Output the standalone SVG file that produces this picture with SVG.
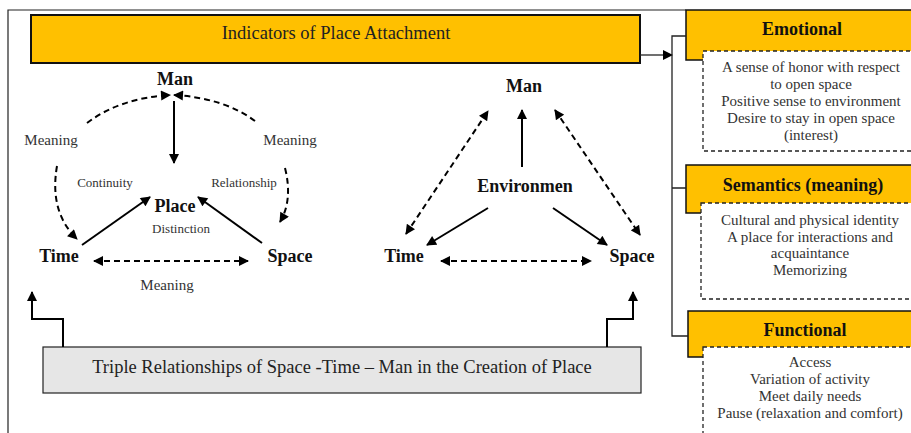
<svg xmlns="http://www.w3.org/2000/svg" width="911" height="433" viewBox="0 0 911 433">
  <style>
    text { font-family: "Liberation Serif", "Times New Roman", serif; }
    .frame { fill: none; stroke: #222; stroke-width: 1.2; }
    .orange { fill: #FFC000; stroke: #111; }
    .grey { fill: #E6E6E6; stroke: #222; stroke-width: 1.2; }
    .dash-box { fill: #fff; stroke: #222; stroke-width: 1.3; stroke-dasharray: 4 3; }
    .node { font-size: 18px; font-weight: bold; fill: #111; text-anchor: middle; }
    .lbl { font-size: 15px; fill: #333; text-anchor: middle; }
    .small { font-size: 13px; fill: #333; text-anchor: middle; }
    .head { font-size: 18px; font-weight: bold; fill: #111; text-anchor: middle; }
    .body { font-size: 15px; fill: #333; text-anchor: middle; }
    .solid { fill: none; stroke: #000; stroke-width: 2; }
    .dashed { fill: none; stroke: #000; stroke-width: 2; stroke-dasharray: 6 4; }
    .thin { fill: none; stroke: #222; stroke-width: 1.3; }
  </style>
  <defs>
    <marker id="ah" viewBox="0 0 10 10" refX="9" refY="5" markerWidth="11" markerHeight="10" markerUnits="userSpaceOnUse" orient="auto-start-reverse">
      <path d="M0,0 L10,5 L0,10 z" fill="#000"/>
    </marker>
  </defs>

  <rect width="911" height="433" fill="#fff"/>

  <!-- outer frame -->
  <path class="frame" d="M8,433 V10 H686"/>

  <!-- header bar -->
  <g id="indicators">
    <rect class="orange" x="31" y="15" width="609" height="48" stroke-width="2"/>
    <text x="336" y="39" font-size="18.5" fill="#222" text-anchor="middle">Indicators of Place Attachment</text>
  </g>

  <!-- Emotional -->
  <g id="emotional">
    <rect class="orange" x="686" y="10" width="230" height="50" stroke-width="1.5"/>
    <text class="head" x="802" y="35">Emotional</text>
    <rect class="dash-box" x="703" y="51" width="215" height="100"/>
    <text class="body" x="811" y="72">A sense of honor with respect</text>
    <text class="body" x="811" y="89">to open space</text>
    <text class="body" x="811" y="106">Positive sense to environment</text>
    <text class="body" x="811" y="123">Desire to stay in open space</text>
    <text class="body" x="811" y="140">(interest)</text>
  </g>

  <!-- Semantics -->
  <g id="semantics">
    <rect class="orange" x="686" y="165" width="230" height="48" stroke-width="1.5"/>
    <text class="head" x="803" y="191">Semantics (meaning)</text>
    <rect class="dash-box" x="701" y="203" width="217" height="96"/>
    <text class="body" x="810" y="225">Cultural and physical identity</text>
    <text class="body" x="810" y="242">A place for interactions and</text>
    <text class="body" x="810" y="258">acquaintance</text>
    <text class="body" x="810" y="275">Memorizing</text>
  </g>

  <!-- Functional -->
  <g id="functional">
    <rect class="orange" x="688" y="311" width="230" height="46" stroke-width="1.5"/>
    <text class="head" x="805" y="336">Functional</text>
    <rect class="dash-box" x="703" y="347" width="215" height="95"/>
    <text class="body" x="810" y="367">Access</text>
    <text class="body" x="810" y="384">Variation of activity</text>
    <text class="body" x="810" y="401">Meet daily needs</text>
    <text class="body" x="810" y="418">Pause (relaxation and comfort)</text>
  </g>

  <!-- bottom bar -->
  <g id="triple">
    <rect class="grey" x="43" y="347" width="598" height="46"/>
    <text x="342" y="373" font-size="18.5" fill="#222" text-anchor="middle">Triple Relationships of Space -Time – Man in the Creation of Place</text>
  </g>

  <!-- left triangle nodes -->
  <g id="man-left"><text class="node" x="175" y="85">Man</text></g>
  <g id="place"><text class="node" x="175" y="212">Place</text></g>
  <g id="time-left"><text class="node" x="59" y="262">Time</text></g>
  <g id="space-left"><text class="node" x="290" y="262">Space</text></g>

  <!-- right triangle nodes -->
  <g id="man-right"><text class="node" x="524" y="92">Man</text></g>
  <g id="environment"><text class="node" x="525" y="192" fill="#333">Environmen</text></g>
  <g id="time-right"><text class="node" x="404" y="262">Time</text></g>
  <g id="space-right"><text class="node" x="632" y="262">Space</text></g>

  <!-- connector labels -->
  <g id="labels">
    <text class="lbl" x="51" y="145">Meaning</text>
    <text class="lbl" x="290" y="145">Meaning</text>
    <text class="lbl" x="167" y="290">Meaning</text>
    <text class="small" x="105" y="187">Continuity</text>
    <text class="small" x="244" y="187">Relationship</text>
    <text class="small" x="181" y="233">Distinction</text>
  </g>

  <!-- connectors -->
  <g id="connectors">
    <!-- header to indicator bracket -->
    <line class="thin" x1="640" y1="55" x2="672" y2="55" marker-end="url(#ah)"/>
    <path class="thin" d="M686,36 H672 V336 H688 M672,188 H686"/>

    <!-- left triangle -->
    <path class="dashed" d="M87,123 Q120,98 170,95" marker-end="url(#ah)"/>
    <path class="dashed" d="M255,121 Q224,98 174,95" marker-end="url(#ah)"/>
    <line class="solid" x1="174" y1="101" x2="174" y2="163" marker-end="url(#ah)"/>
    <path class="dashed" d="M57,166 Q49,212 77,239" marker-end="url(#ah)"/>
    <path class="dashed" d="M285,168 Q293,200 280,222" marker-end="url(#ah)"/>
    <line class="solid" x1="82" y1="245" x2="150" y2="197" marker-end="url(#ah)"/>
    <line class="solid" x1="262" y1="243" x2="198" y2="197" marker-end="url(#ah)"/>
    <line class="dashed" x1="94" y1="261" x2="248" y2="261" marker-start="url(#ah)" marker-end="url(#ah)"/>

    <!-- right triangle -->
    <line class="dashed" x1="406" y1="234" x2="488" y2="111" marker-start="url(#ah)" marker-end="url(#ah)"/>
    <line class="solid" x1="522" y1="167" x2="522" y2="110" marker-end="url(#ah)"/>
    <line class="dashed" x1="555" y1="110" x2="640" y2="235" marker-start="url(#ah)" marker-end="url(#ah)"/>
    <line class="solid" x1="488" y1="208" x2="427" y2="245" marker-end="url(#ah)"/>
    <line class="solid" x1="553" y1="208" x2="607" y2="245" marker-end="url(#ah)"/>
    <line class="dashed" x1="441" y1="261" x2="591" y2="261" marker-start="url(#ah)" marker-end="url(#ah)"/>

    <!-- bottom bar to both triangles -->
    <polyline class="solid" points="63,347 63,319 32,319 32,292" marker-end="url(#ah)"/>
    <polyline class="solid" points="607,347 607,319 633,319 633,292" marker-end="url(#ah)"/>
  </g>
</svg>
